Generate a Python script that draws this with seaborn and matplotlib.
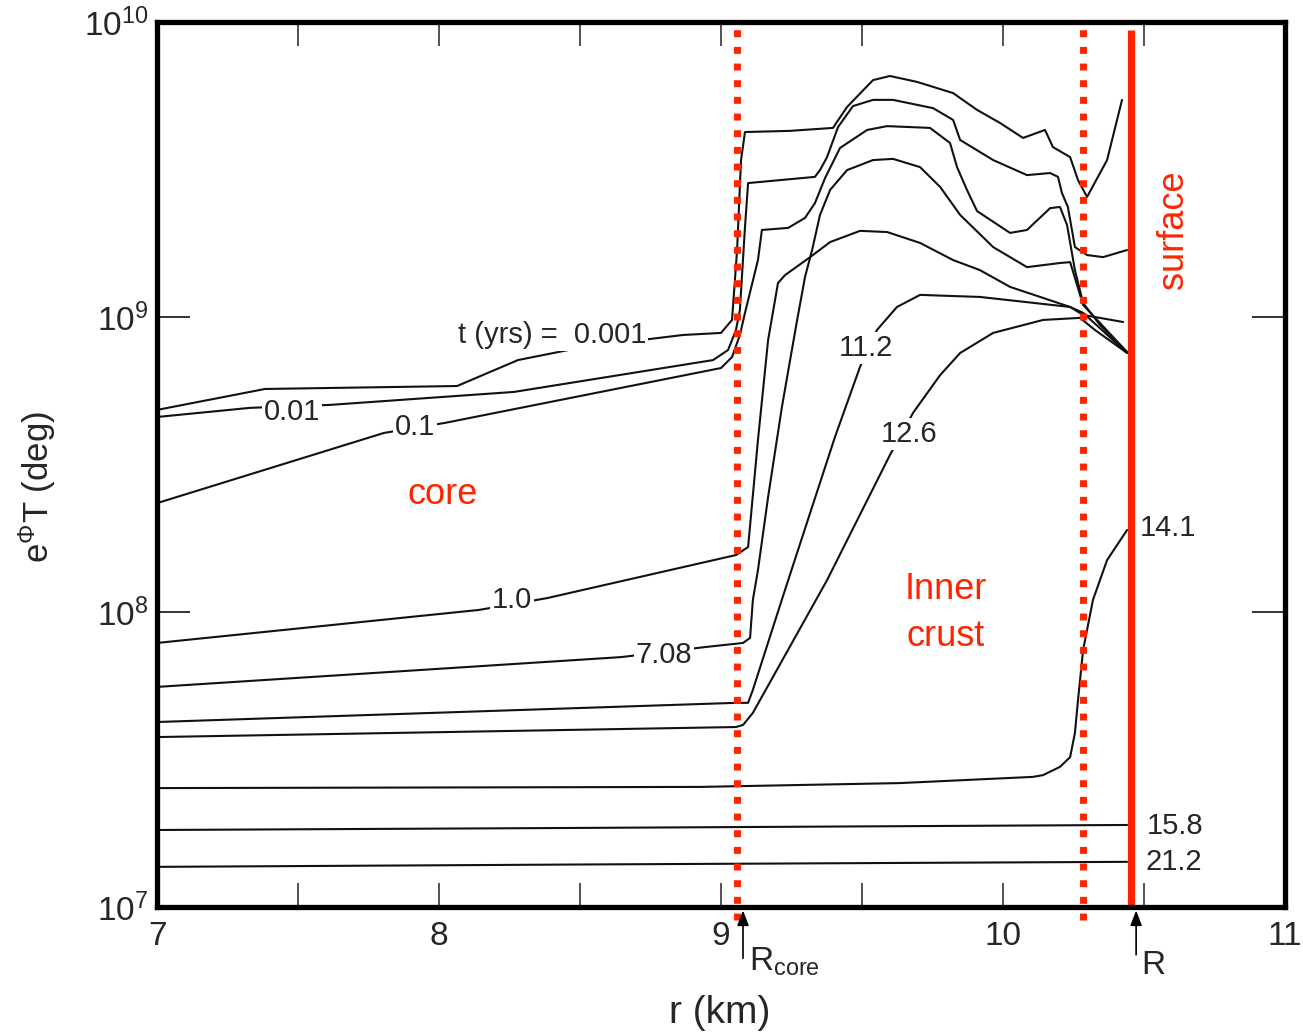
import numpy as np
import pandas as pd
import matplotlib
matplotlib.use("Agg")
import matplotlib.pyplot as plt
import seaborn as sns
from matplotlib import font_manager
from matplotlib.ticker import NullLocator

# temperature profiles e^phi T(r) (r in km, log10 of T in K)
r_0001 = [7.000, 7.383, 8.064, 8.280, 8.511, 8.865, 9.000, 9.039, 9.057, 9.071, 9.085, 9.245, 9.397, 9.447,
          9.539, 9.599, 9.695, 9.823, 9.908, 9.989, 10.071, 10.149, 10.177, 10.238, 10.266, 10.298, 10.369, 10.422]
lgT_0001 = [8.685, 8.756, 8.766, 8.854, 8.898, 8.939, 8.946, 8.990, 9.227, 9.532, 9.627, 9.631, 9.641, 9.712,
            9.803, 9.817, 9.797, 9.759, 9.702, 9.658, 9.607, 9.634, 9.576, 9.542, 9.464, 9.407, 9.532, 9.736]

r_001 = [7.000, 7.330, 7.613, 8.266, 8.972, 9.025, 9.053, 9.067, 9.085, 9.096, 9.333, 9.351, 9.376, 9.415, 9.468,
         9.539, 9.610, 9.752, 9.823, 9.848, 9.965, 10.085, 10.167, 10.195, 10.209, 10.230, 10.255, 10.298, 10.355, 10.440]
lgT_001 = [8.661, 8.692, 8.702, 8.746, 8.854, 8.888, 8.956, 9.024, 9.305, 9.454, 9.475, 9.498, 9.542, 9.644, 9.715,
           9.736, 9.736, 9.708, 9.668, 9.600, 9.532, 9.481, 9.488, 9.475, 9.420, 9.373, 9.237, 9.210, 9.203, 9.227]

r_01 = [7.000, 7.805, 8.021, 9.000, 9.039, 9.067, 9.085, 9.131, 9.145, 9.238, 9.298, 9.333, 9.369, 9.422, 9.518,
        9.589, 9.741, 9.812, 9.837, 9.872, 9.908, 10.025, 10.085, 10.167, 10.202, 10.227, 10.255, 10.284, 10.344, 10.440]
lgT_01 = [8.369, 8.607, 8.641, 8.827, 8.864, 8.939, 9.014, 9.193, 9.295, 9.302, 9.336, 9.386, 9.471, 9.573, 9.634,
          9.647, 9.641, 9.590, 9.508, 9.431, 9.359, 9.285, 9.295, 9.369, 9.373, 9.312, 9.159, 9.047, 8.973, 8.881]

r_1 = [7.000, 8.142, 8.383, 9.053, 9.096, 9.131, 9.167, 9.202, 9.227, 9.316, 9.387, 9.493, 9.589, 9.706, 9.823,
       9.918, 10.025, 10.238, 10.284, 10.440]
lgT_1 = [7.895, 8.007, 8.047, 8.193, 8.220, 8.583, 8.922, 9.115, 9.142, 9.203, 9.254, 9.292, 9.288, 9.251, 9.193,
         9.159, 9.102, 9.034, 9.014, 8.878]

r_708 = [7.000, 8.645, 8.943, 9.078, 9.103, 9.113, 9.131, 9.167, 9.216, 9.245, 9.270, 9.298, 9.323, 9.351, 9.387,
         9.447, 9.539, 9.610, 9.706, 9.777, 9.848, 9.965, 10.085, 10.202, 10.238, 10.284, 10.440]
lgT_708 = [7.746, 7.847, 7.881, 7.895, 7.912, 8.041, 8.142, 8.390, 8.695, 8.854, 8.990, 9.136, 9.227, 9.346, 9.431,
           9.498, 9.532, 9.536, 9.508, 9.441, 9.346, 9.237, 9.169, 9.183, 9.186, 9.041, 8.881]

r_112 = [7.000, 9.053, 9.096, 9.113, 9.227, 9.404, 9.493, 9.553, 9.624, 9.706, 9.823, 9.918, 10.238, 10.284, 10.426]
lgT_112 = [7.627, 7.692, 7.692, 7.736, 8.075, 8.593, 8.831, 8.956, 9.034, 9.075, 9.071, 9.068, 9.034, 9.007, 8.983]

r_126 = [7.000, 9.053, 9.078, 9.113, 9.376, 9.599, 9.681, 9.777, 9.848, 9.965, 10.142, 10.273, 10.326, 10.440]
lgT_126 = [7.576, 7.610, 7.617, 7.658, 8.108, 8.532, 8.675, 8.803, 8.878, 8.946, 8.990, 8.997, 8.956, 8.878]

r_141 = [7.000, 8.926, 9.635, 10.106, 10.142, 10.202, 10.238, 10.255, 10.266, 10.284, 10.319, 10.369, 10.440]
lgT_141 = [7.403, 7.407, 7.420, 7.441, 7.447, 7.475, 7.508, 7.590, 7.702, 7.871, 8.041, 8.176, 8.278]

r_158 = [7.000, 8.500, 10.440]
lgT_158 = [7.261, 7.268, 7.278]

r_212 = [7.000, 8.500, 10.440]
lgT_212 = [7.136, 7.144, 7.153]

times = ["0.001", "0.01", "0.1", "1.0", "7.08", "11.2", "12.6", "14.1", "15.8", "21.2"]
r_all = [r_0001, r_001, r_01, r_1, r_708, r_112, r_126, r_141, r_158, r_212]
lgT_all = [lgT_0001, lgT_001, lgT_01, lgT_1, lgT_708, lgT_112, lgT_126, lgT_141, lgT_158, lgT_212]

# boundaries (km)
r_core = 9.057
r_crust = 10.284
r_surf = 10.454

RED = "#ff2400"

frames = []
for t, r, lg in zip(times, r_all, lgT_all):
    frames.append(pd.DataFrame({"t": t, "r": r, "T": 10 ** np.array(lg)}))
df = pd.concat(frames, ignore_index=True)

sns.set_style("white")
plt.rcParams["font.family"] = ["Liberation Sans", "DejaVu Sans"]
plt.rcParams["mathtext.fontset"] = "custom"
plt.rcParams["mathtext.rm"] = "Liberation Sans"
plt.rcParams["mathtext.it"] = "Liberation Sans:italic"

names = {f.name for f in font_manager.fontManager.ttflist}
if "Liberation Sans Narrow" in names:
    red_font, red_size = "Liberation Sans Narrow", 31
else:
    red_font, red_size = "Liberation Sans", 26

fig = plt.figure(figsize=(13.03, 10.33), dpi=100)
ax = fig.add_axes([0.1205, 0.1220, 0.8657, 0.8567])

sns.lineplot(data=df, x="r", y="T", units="t", estimator=None, sort=False,
             color="#111111", linewidth=1.5, legend=False, ax=ax, zorder=2)

ax.set_yscale("log")
ax.set_xlim(7, 11)
ax.set_ylim(1e7, 1e10)

ax.set_xticks([7, 8, 9, 10, 11])
ax.set_xticks(np.arange(7.5, 11, 1.0), minor=True)
ax.set_yticks([1e7, 1e8, 1e9, 1e10])
ax.yaxis.set_minor_locator(NullLocator())
ax.tick_params(axis="x", which="both", direction="in", bottom=True, top=True, length=17, width=1.3,
               color="#444444", pad=10, labelsize=24)
ax.tick_params(axis="y", which="major", direction="in", left=True, right=True, length=24, width=1.3,
               color="#222222", pad=6, labelsize=24)
for s in ax.spines.values():
    s.set_linewidth(3.8)
    s.set_color("black")
    s.set_zorder(5)

ax.set_xlabel("r (km)", fontsize=28)
ax.xaxis.set_label_coords(0.499, -0.099)
ax.set_ylabel("e$^{\\Phi}$T (deg)", fontsize=25)
ax.yaxis.set_label_coords(-0.088, 0.4746)

# region boundaries
ax.axvline(r_core, ymin=-0.015, ymax=1.0, color=RED, lw=5, ls=(0, (1, 1.4)), clip_on=False, zorder=3)
ax.axvline(r_crust, ymin=-0.015, ymax=1.0, color=RED, lw=5, ls=(0, (1, 1.4)), clip_on=False, zorder=3)
ax.axvline(r_surf, ymin=0.0, ymax=0.991, color=RED, lw=5.2, solid_capstyle="butt", zorder=3)

ax.text(8.014, 10 ** 8.397, "core", color=RED, fontsize=red_size, family=red_font, ha="center", va="center")
ax.text(9.798, 10 ** 7.997, "Inner\ncrust", color=RED, fontsize=red_size, family=red_font,
        ha="center", va="center", multialignment="center", linespacing=1.45)
ax.text(10.603, 10 ** 9.295, "surface", color=RED, fontsize=red_size, family=red_font,
        rotation=90, ha="center", va="center")

# curve labels
box = dict(fc="white", ec="none", pad=1.5)
ax.text(8.067, 10 ** 8.939, "t (yrs) =  0.001", fontsize=21, ha="left", va="center", bbox=box, zorder=4)
ax.text(7.479, 10 ** 8.678, "0.01", fontsize=21, ha="center", va="center", bbox=box, zorder=4)
ax.text(7.915, 10 ** 8.627, "0.1", fontsize=21, ha="center", va="center", bbox=box, zorder=4)
ax.text(8.259, 10 ** 8.041, "1.0", fontsize=21, ha="center", va="center", bbox=box, zorder=4)
ax.text(8.798, 10 ** 7.854, "7.08", fontsize=21, ha="center", va="center", bbox=box, zorder=4)
ax.text(9.514, 10 ** 8.895, "11.2", fontsize=21, ha="center", va="center", bbox=box, zorder=4)
ax.text(9.667, 10 ** 8.603, "12.6", fontsize=21, ha="center", va="center", bbox=box, zorder=4)
ax.text(10.486, 10 ** 8.285, "14.1", fontsize=21, ha="left", va="center")
ax.text(10.511, 10 ** 7.275, "15.8", fontsize=21, ha="left", va="center")
ax.text(10.504, 10 ** 7.153, "21.2", fontsize=21, ha="left", va="center")

# R_core and R markers under the axis
xt = ax.get_xaxis_transform()
arrow = dict(arrowstyle="-|>,head_length=0.9,head_width=0.35", color="black", lw=1.2, shrinkA=0, shrinkB=0)
ax.annotate("", xy=(9.078, -0.004), xytext=(9.078, -0.058), xycoords=xt, textcoords=xt,
            arrowprops=arrow, annotation_clip=False)
ax.annotate("", xy=(10.472, -0.004), xytext=(10.472, -0.054), xycoords=xt, textcoords=xt,
            arrowprops=arrow, annotation_clip=False)
ax.text(9.100, -0.062, "R$_{\\mathrm{core}}$", transform=xt, fontsize=24, ha="left", va="center")
ax.text(10.490, -0.066, "R", transform=xt, fontsize=24, ha="left", va="center")

fig.savefig("out.png", dpi=100, facecolor="white")
